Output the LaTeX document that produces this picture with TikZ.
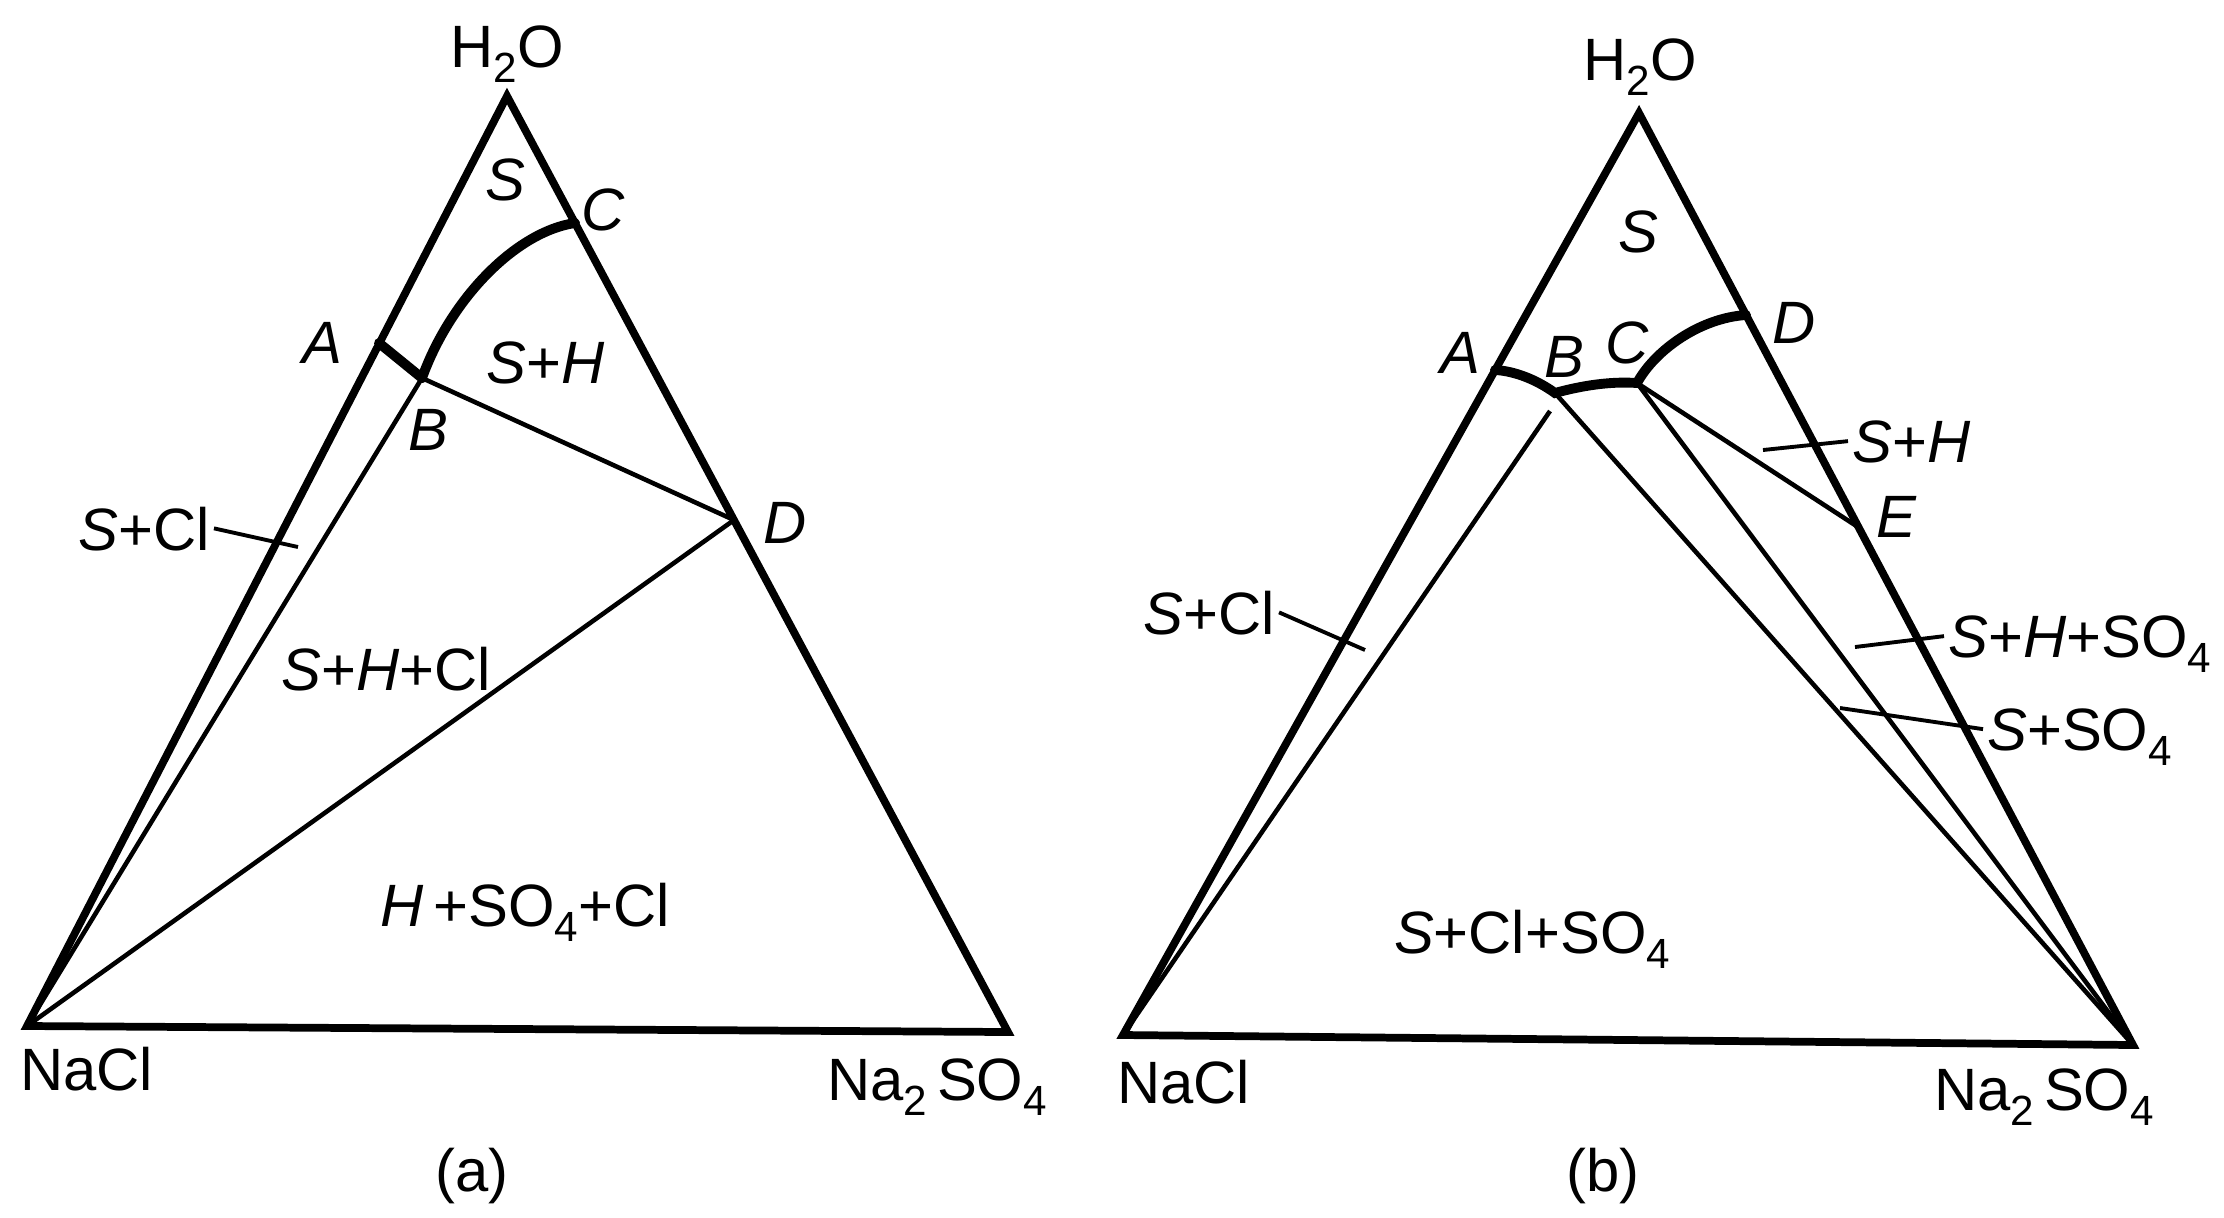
\documentclass[tikz,border=0pt]{standalone}
\usepackage{fontspec}
\setmainfont{Liberation Sans}
\tikzset{
  edgeline/.style={line width=2.2pt, line join=miter},
  tieline/.style={line width=1.3pt},
  bdcurve/.style={line width=2.8pt, line cap=round},
  leader/.style={line width=1.1pt},
  phlabel/.style={font=\fontsize{17}{20}\selectfont, inner sep=1pt, text depth=0pt},
}
\newcommand{\lowsub}[1]{\raisebox{-4.5pt}{\fontsize{12}{12}\selectfont #1}}
\newcommand{\sulf}{SO\lowsub{4}}

\begin{document}
\begin{tikzpicture}[x=0.01cm, y=-0.01cm]
  \useasboundingbox (0,0) rectangle (2224,1217);

  % (a)
  \coordinate (aW) at (507,96);
  \coordinate (aN) at (27,1026);
  \coordinate (aS) at (1008,1032);
  \coordinate (aA) at (379,343);
  \coordinate (aB) at (422,378);
  \coordinate (aC) at (575,223);
  \coordinate (aD) at (734,520);
  \draw[edgeline] (aW) -- (aN) -- (aS) -- cycle;
  \draw[tieline] (aB) -- (aN);
  \draw[tieline] (aB) -- (aD);
  \draw[tieline] (aD) -- (aN);
  \draw[bdcurve] (aA) -- (aB);
  \draw[bdcurve] (aB) .. controls (450,300) and (515,232) .. (aC);

  \node[phlabel, anchor=base] (aH2O) at (507,67) {H\lowsub{2}O};
  \node[phlabel, anchor=base west] (aNaCl) at (16,1090) {NaCl};
  \node[phlabel, anchor=base west] (aNa2SO4) at (823,1100) {Na\lowsub{2}\,\sulf};
  \node[phlabel, anchor=base] (aAl) at (322,363) {\textit{A}};
  \node[phlabel, anchor=base] (aBl) at (428,450) {\textit{B}};
  \node[phlabel, anchor=base] (aCl) at (603,230) {\textit{C}};
  \node[phlabel, anchor=base] (aDl) at (785,543) {\textit{D}};
  \node[phlabel, anchor=base] (aS1) at (505,200) {\textit{S}};
  \node[phlabel, anchor=base] (aSH) at (546,383) {\textit{S}+\textit{H}};
  \node[phlabel, anchor=base east] (aSCl) at (214,550) {\textit{S}+Cl};
  \node[phlabel, anchor=base] (aSHCl) at (386,690) {\textit{S}+\textit{H}+Cl};
  \node[phlabel, anchor=base] (aHSCl) at (525,926) {\textit{H}\,+\sulf+Cl};
  \node[phlabel] (acap) at (472,1170) {(a)};
  \coordinate (aSClend) at (298,547);
  \draw[leader] (aSCl.east) -- (aSClend);

  % (b)
  \coordinate (bW) at (1639,113);
  \coordinate (bN) at (1123,1035);
  \coordinate (bS) at (2133,1045);
  \coordinate (bA) at (1495,370);
  \coordinate (bB) at (1555,393);
  \coordinate (bB2) at (1550,411);
  \coordinate (bC) at (1637,383);
  \coordinate (bD) at (1746,315);
  \coordinate (bE) at (1858,527);
  \draw[edgeline] (bW) -- (bN) -- (bS) -- cycle;
  \draw[tieline] (bB2) -- (bN);
  \draw[tieline] (bB) -- (bS);
  \draw[tieline] (bC) -- (bS);
  \draw[tieline] (bC) -- (bE);
  \draw[bdcurve] (bA) .. controls (1515,371) and (1537,380) .. (bB)
    .. controls (1580,386) and (1610,381) .. (bC)
    .. controls (1655,350) and (1700,318) .. (bD);

  \node[phlabel, anchor=base] (bH2O) at (1640,80) {H\lowsub{2}O};
  \node[phlabel, anchor=base west] (bNaCl) at (1113,1103) {NaCl};
  \node[phlabel, anchor=base west] (bNa2SO4) at (1930,1110) {Na\lowsub{2}\,\sulf};
  \node[phlabel, anchor=base] (bAl) at (1460,373) {\textit{A}};
  \node[phlabel, anchor=base] (bBl) at (1564,377) {\textit{B}};
  \node[phlabel, anchor=base] (bCl) at (1627,363) {\textit{C}};
  \node[phlabel, anchor=base] (bDl) at (1794,343) {\textit{D}};
  \node[phlabel, anchor=base] (bEl) at (1897,537) {\textit{E}};
  \node[phlabel, anchor=base] (bS1) at (1638,252) {\textit{S}};
  \node[phlabel, anchor=base west] (bSH) at (1848,462) {\textit{S}+\textit{H}};
  \node[phlabel, anchor=base west] (bSHS) at (1944,657) {\textit{S}+\textit{H}+\sulf};
  \node[phlabel, anchor=base west] (bSS) at (1983,750) {\textit{S}+\sulf};
  \node[phlabel, anchor=base east] (bSCl) at (1279,634) {\textit{S}+Cl};
  \node[phlabel, anchor=base] (bSClS) at (1532,953) {\textit{S}+Cl+\sulf};
  \node[phlabel] (bcap) at (1603,1170) {(b)};
  \coordinate (bSClend) at (1365,650);
  \coordinate (bSHend) at (1763,450);
  \coordinate (bSHSend) at (1855,647);
  \coordinate (bSSend) at (1840,708);
  \draw[leader] (bSCl.east) -- (bSClend);
  \draw[leader] (bSHend) -- (bSH.west);
  \draw[leader] (bSHSend) -- (bSHS.west);
  \draw[leader] (bSSend) -- (bSS.west);
\end{tikzpicture}
\end{document}
